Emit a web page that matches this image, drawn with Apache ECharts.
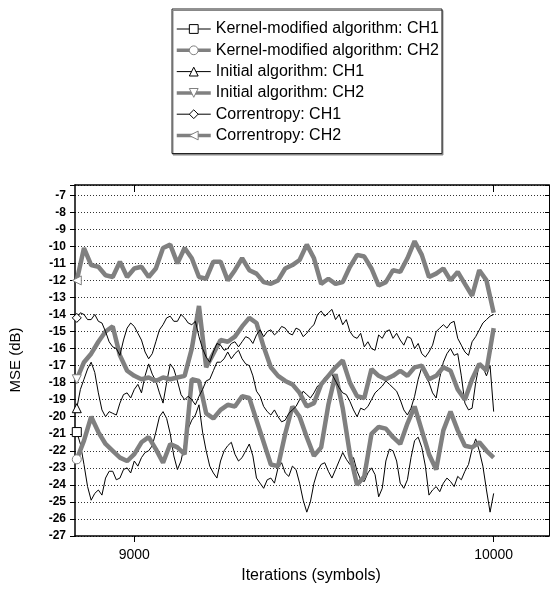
<!DOCTYPE html>
<html>
<head>
<meta charset="utf-8">
<script src="https://cdn.jsdelivr.net/npm/echarts@6.0.0/dist/echarts.min.js"></script>
<style>
html,body{margin:0;padding:0;background:#fff;}
#chart{width:552px;height:594px;}
</style>
</head>
<body>
<div id="chart"></div>
<script>
// Iterations (symbols) used by the thick grey curves
var iterations = [8840, 8860, 8880, 8900, 8920, 8940, 8960, 8980, 9000, 9020,
  9040, 9060, 9080, 9100, 9120, 9140, 9160, 9180, 9200, 9220,
  9240, 9260, 9280, 9300, 9320, 9340, 9360, 9380, 9400, 9420,
  9440, 9460, 9480, 9500, 9520, 9540, 9560, 9580, 9600, 9620,
  9640, 9660, 9680, 9700, 9720, 9740, 9760, 9780, 9800, 9820,
  9840, 9860, 9880, 9900, 9920, 9940, 9960, 9980, 10000];

// Iterations (symbols) used by the thin black (noisier) curves
var iterationsFine = [8840, 8850, 8860, 8870, 8880, 8890, 8900, 8910, 8920, 8930,
  8940, 8950, 8960, 8970, 8980, 8990, 9000, 9010, 9020, 9030,
  9040, 9050, 9060, 9070, 9080, 9090, 9100, 9110, 9120, 9130,
  9140, 9150, 9160, 9170, 9180, 9190, 9200, 9210, 9220, 9230,
  9240, 9250, 9260, 9270, 9280, 9290, 9300, 9310, 9320, 9330,
  9340, 9350, 9360, 9370, 9380, 9390, 9400, 9410, 9420, 9430,
  9440, 9450, 9460, 9470, 9480, 9490, 9500, 9510, 9520, 9530,
  9540, 9550, 9560, 9570, 9580, 9590, 9600, 9610, 9620, 9630,
  9640, 9650, 9660, 9670, 9680, 9690, 9700, 9710, 9720, 9730,
  9740, 9750, 9760, 9770, 9780, 9790, 9800, 9810, 9820, 9830,
  9840, 9850, 9860, 9870, 9880, 9890, 9900, 9910, 9920, 9930,
  9940, 9950, 9960, 9970, 9980, 9990, 10000];

// MSE (dB)
var kernelCH1 = [-20.9, -21.6, -22.8, -24.1, -24.9, -24.5, -24.3, -24.6, -23.6, -23.2,
  -23.2, -23.7, -23.6, -23.1, -23.0, -23.3, -22.6, -22.9, -22.4, -22.1,
  -22.0, -21.7, -20.9, -20.0, -19.7, -20.1, -21.0, -22.3, -23.1, -22.6,
  -21.6, -20.7, -20.2, -19.9, -19.3, -20.9, -22.0, -22.9, -23.3, -23.6,
  -22.6, -22.0, -21.7, -21.5, -22.2, -22.6, -22.4, -22.0, -21.6, -22.3,
  -23.6, -23.9, -24.2, -23.7, -23.6, -23.9, -23.0, -22.7, -23.3, -23.5,
  -22.9, -23.1, -23.9, -24.9, -25.6, -25.0, -23.9, -23.2, -22.8, -22.7,
  -23.2, -23.6, -23.1, -22.6, -22.1, -22.5, -22.8, -22.4, -23.2, -23.7,
  -23.8, -23.3, -23.0, -23.4, -24.7, -24.2, -22.6, -21.9, -22.0, -22.6,
  -23.9, -24.2, -23.7, -22.4, -21.4, -21.2, -21.8, -22.9, -24.6, -24.3,
  -24.1, -24.4, -23.9, -23.6, -23.8, -24.1, -23.5, -23.7, -23.2, -22.8,
  -21.9, -21.3, -22.0, -22.9, -24.3, -25.6, -24.5];

var kernelCH2 = [-22.5, -21.4, -20.0, -20.9, -21.6, -22.0, -22.4, -22.6, -22.2, -21.5,
  -21.2, -21.9, -22.7, -21.6, -21.8, -22.2, -17.8, -17.9, -19.8, -20.1,
  -19.6, -19.3, -19.4, -18.8, -18.9, -20.2, -21.5, -22.8, -22.9, -21.0,
  -19.4, -20.0, -21.2, -22.3, -21.8, -19.3, -17.5, -19.5, -22.2, -24.0,
  -23.5, -21.0, -20.6, -20.7, -21.2, -21.6, -20.4, -19.4, -20.8, -22.2,
  -23.1, -20.8, -19.7, -20.8, -21.7, -21.8, -21.5, -22.0, -22.4];

var initialCH1 = [-19.5, -18.4, -17.8, -17.2, -16.8, -17.4, -18.6, -19.6, -20.0, -19.7,
  -19.8, -19.9, -19.2, -18.7, -18.6, -18.9, -18.4, -18.1, -18.6, -17.6,
  -16.9, -17.5, -17.9, -18.6, -19.2, -18.0, -16.9, -17.2, -17.9, -18.7,
  -19.0, -18.8, -19.0, -19.3, -18.8, -18.4, -17.9, -17.8, -17.3, -16.8,
  -16.8, -16.6, -16.2, -16.6, -16.3, -16.1, -16.6, -16.9, -17.0, -17.6,
  -18.5, -18.8, -19.4, -19.7, -19.9, -19.6, -20.0, -20.3, -20.2, -19.8,
  -19.6, -19.4, -19.0, -18.5, -18.7, -18.9, -18.6, -18.2, -18.1, -17.7,
  -17.6, -17.5, -17.9, -18.3, -18.6, -18.7, -19.1, -19.6, -20.0, -19.5,
  -19.6, -19.4, -19.0, -18.6, -18.4, -18.2, -17.9, -18.1, -18.3, -18.5,
  -19.0, -19.6, -19.9, -19.5, -18.8, -17.8, -17.1, -17.6, -18.0, -18.6,
  -18.9, -17.7, -16.8, -16.3, -16.0, -16.4, -16.3, -17.6, -19.2, -19.6,
  -19.5, -18.0, -16.9, -17.1, -17.6, -17.0, -19.7];

var initialCH2 = [-17.8, -16.8, -16.3, -15.6, -15.0, -14.7, -16.4, -17.3, -17.6, -17.8,
  -17.7, -17.9, -17.7, -17.8, -17.7, -17.6, -16.0, -13.5, -17.1, -16.3,
  -15.5, -15.6, -15.3, -14.7, -14.2, -14.5, -15.9, -17.1, -17.6, -17.9,
  -18.1, -18.6, -19.4, -19.2, -18.1, -17.6, -17.1, -16.7, -18.0, -18.8,
  -18.9, -17.2, -17.6, -17.8, -17.6, -17.3, -17.6, -17.1, -17.0, -17.8,
  -17.6, -17.1, -17.3, -18.4, -19.0, -17.8, -16.9, -17.3, -14.8];

var correntropyCH1 = [-14.2, -13.9, -14.0, -14.3, -14.3, -14.0, -14.4, -14.5, -15.0, -15.6,
  -15.9, -16.0, -16.4, -15.5, -14.8, -14.5, -14.7, -15.1, -15.5, -16.2,
  -16.6, -16.3, -15.6, -14.9, -14.6, -14.2, -14.1, -14.4, -14.4, -14.0,
  -14.2, -14.5, -14.6, -14.4, -15.3, -16.0, -16.5, -16.8, -16.2, -15.7,
  -15.8, -16.1, -16.0, -15.7, -15.6, -15.9, -15.6, -15.3, -15.4, -15.7,
  -15.2, -14.9, -15.3, -15.0, -14.9, -15.2, -15.0, -14.7, -14.8, -15.1,
  -15.2, -14.8, -14.9, -15.3, -15.1, -14.8, -14.6, -14.0, -13.8, -14.1,
  -13.9, -13.7, -14.3, -14.0, -14.6, -14.3, -15.0, -15.3, -15.4, -15.1,
  -15.9, -15.6, -16.0, -16.1, -15.2, -15.4, -15.0, -14.9, -15.4, -15.1,
  -15.5, -15.8, -15.3, -15.4, -16.0, -15.7, -16.3, -16.5, -16.2, -15.8,
  -15.0, -14.8, -14.6, -14.8, -14.5, -14.4, -15.4, -15.8, -16.2, -16.4,
  -15.6, -15.3, -14.9, -14.5, -14.3, -14.1, -14.0];

var correntropyCH2 = [-12.0, -10.1, -11.1, -11.2, -11.7, -11.8, -10.9, -11.8, -11.3, -11.2,
  -11.8, -11.3, -10.1, -9.9, -11.0, -10.1, -10.7, -11.8, -11.9, -10.9,
  -10.9, -12.0, -11.4, -10.7, -11.4, -11.6, -12.1, -12.2, -12.0, -11.3,
  -11.1, -10.8, -9.9, -10.7, -12.2, -11.9, -12.2, -12.1, -11.2, -10.5,
  -10.6, -11.3, -12.3, -12.1, -11.4, -11.5, -10.7, -9.7, -10.5, -11.8,
  -11.6, -11.3, -12.0, -11.5, -12.2, -12.9, -11.4, -12.0, -13.9];

var seriesNames = ['Kernel-modified algorithm: CH1', 'Kernel-modified algorithm: CH2',
  'Initial algorithm: CH1', 'Initial algorithm: CH2', 'Correntropy: CH1', 'Correntropy: CH2'];
var xTicks = [9000, 10000];

var FONT = 'Liberation Sans, Arial, sans-serif';
var GRAY = '#808080';

function pairs(xs, vals) {
  return xs.map(function (x, i) { return [x, vals[i]]; });
}
function mk(name, xs, vals, symbol, gray) {
  var col = gray ? GRAY : '#000';
  return {
    name: name, type: 'line', data: pairs(xs, vals),
    symbol: symbol,
    symbolSize: function (v, p) { return p.dataIndex === 0 ? 9 : 0; },
    showSymbol: true, showAllSymbol: true,
    lineStyle: { color: col, width: gray ? 4.5 : 1 },
    itemStyle: { color: '#fff', borderColor: col, borderWidth: 1 },
    emphasis: { disabled: true },
    animation: false
  };
}
function legendItem(name, gray) {
  return {
    name: name,
    lineStyle: { width: gray ? 3.5 : 1, color: gray ? GRAY : '#000' },
    itemStyle: { color: '#fff', borderColor: gray ? GRAY : '#000', borderWidth: 1 }
  };
}

var chart = echarts.init(document.getElementById('chart'), null, { renderer: 'canvas' });
chart.setOption({
  animation: false,
  backgroundColor: '#fff',
  grid: { left: 75, right: 3, top: 185, bottom: 58, containLabel: false },
  legend: {
    orient: 'vertical', left: 172, top: 9,
    padding: [12, 3, 10, 3], itemGap: 5.3, itemWidth: 34, itemHeight: 11,
    borderColor: '#222', borderWidth: 1, backgroundColor: '#fff',
    shadowColor: '#888', shadowOffsetX: 1, shadowOffsetY: 1.5, shadowBlur: 0,
    selectedMode: false,
    itemStyle: { borderWidth: 1 },
    textStyle: { fontFamily: FONT, fontSize: 16, color: '#000', lineHeight: 16 },
    data: [
      legendItem(seriesNames[0], false), legendItem(seriesNames[1], true),
      legendItem(seriesNames[2], false), legendItem(seriesNames[3], true),
      legendItem(seriesNames[4], false), legendItem(seriesNames[5], true)
    ]
  },
  xAxis: [{
    type: 'value', min: 8835, max: 10154, position: 'bottom',
    axisLine: { onZero: false, lineStyle: { color: '#000', width: 1.5 } },
    axisTick: { customValues: xTicks, length: 6, lineStyle: { color: '#000' } },
    axisLabel: { customValues: xTicks, formatter: function (v) { return String(v); },
      fontFamily: FONT, fontSize: 14, color: '#000', margin: 12 },
    splitLine: { show: false }
  }, {
    type: 'value', min: 8835, max: 10154, position: 'top',
    axisLine: { onZero: false, lineStyle: { color: '#000', width: 1.5 } },
    axisTick: { customValues: xTicks, inside: true, length: 7, lineStyle: { color: '#000' } },
    axisLabel: { show: false },
    splitLine: { show: false }
  }],
  yAxis: [{
    type: 'value', min: -27, max: -6.4, interval: 1, position: 'left',
    axisLine: { show: true, onZero: false, lineStyle: { color: '#000', width: 1.5 } },
    axisTick: { show: true, length: 5, lineStyle: { color: '#000' } },
    axisLabel: { formatter: function (v) { return Math.abs(v - Math.round(v)) < 1e-6 ? String(Math.round(v)) : ''; },
      fontFamily: FONT, fontSize: 12, fontWeight: 'bold', color: '#000', margin: 9 },
    splitLine: { show: true, lineStyle: { type: [1, 2], color: '#333', width: 1 } }
  }, {
    type: 'value', min: -27, max: -6.4, interval: 1, position: 'right',
    axisLine: { show: true, onZero: false, lineStyle: { color: '#000', width: 1 } },
    axisTick: { show: true, inside: true, length: 4, lineStyle: { color: '#000' } },
    axisLabel: { show: false },
    splitLine: { show: false }
  }],
  graphic: [{
    type: 'text', x: 16, y: 360, rotation: Math.PI / 2,
    style: { text: 'MSE (dB)', textAlign: 'center', textVerticalAlign: 'middle',
      fontFamily: FONT, fontSize: 15, fill: '#000' }
  }, {
    type: 'text', x: 311, y: 576,
    style: { text: 'Iterations (symbols)', textAlign: 'center', textVerticalAlign: 'middle',
      fontFamily: FONT, fontSize: 16, fill: '#000' }
  }],
  series: [
    mk(seriesNames[0], iterationsFine, kernelCH1, 'rect', false),
    mk(seriesNames[1], iterations, kernelCH2, 'circle', true),
    mk(seriesNames[2], iterationsFine, initialCH1, 'triangle', false),
    mk(seriesNames[3], iterations, initialCH2, 'path://M0,0 L10,0 L5,10 Z', true),
    mk(seriesNames[4], iterationsFine, correntropyCH1, 'diamond', false),
    mk(seriesNames[5], iterations, correntropyCH2, 'path://M10,0 L10,10 L0,5 Z', true)
  ]
});
</script>
</body>
</html>
